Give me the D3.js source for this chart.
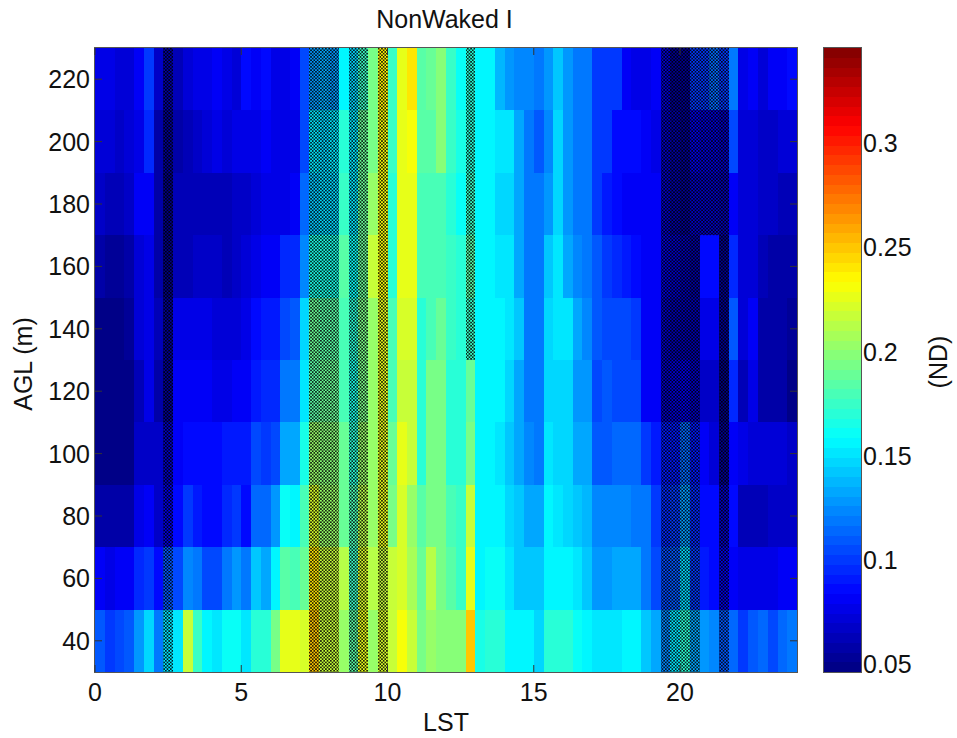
<!DOCTYPE html>
<html><head><meta charset="utf-8">
<script src="https://cdnjs.cloudflare.com/ajax/libs/d3/7.8.5/d3.min.js"></script>
<style>html,body{margin:0;padding:0;background:#fff}svg{display:block}text{font-family:"Liberation Sans",Arial,sans-serif;fill:#111}</style>
</head><body><svg id="c" width="957" height="738"></svg>
<script>
// Values in thousandths of ND, one array per altitude, 72 columns of 20 minutes each.
const alt40=[110,100,105,110,130,145,120,150,150,215,175,158,150,162,162,150,168,168,195,225,228,222,250,215,215,205,185,228,205,222,215,233,218,195,205,200,200,200,252,165,170,172,158,158,155,148,168,172,172,163,155,150,150,150,158,155,140,133,125,150,172,135,130,125,110,115,98,110,115,105,115,120];
const alt60=[83,78,83,83,95,102,85,110,105,125,120,105,105,120,130,120,140,135,158,185,180,190,240,215,215,210,175,220,210,215,215,222,208,190,212,195,185,175,225,158,163,162,152,140,143,143,158,158,158,150,140,130,130,135,135,135,117,105,105,110,145,100,92,85,75,83,78,78,78,75,83,83];
const alt80=[58,58,58,58,78,83,65,75,88,98,90,85,85,95,98,85,115,115,130,160,158,180,220,205,205,190,180,210,205,225,195,222,205,182,195,195,180,175,215,155,158,158,148,143,135,135,158,150,148,140,138,125,125,125,122,120,117,102,95,100,130,95,85,85,65,85,62,62,64,66,66,66];
const alt100=[50,48,46,48,65,68,65,65,83,85,85,84,85,92,90,90,105,100,105,135,135,165,205,200,200,190,170,205,205,225,190,228,215,172,195,195,172,170,195,155,155,150,143,135,125,120,152,148,145,135,132,110,110,113,113,113,102,92,90,90,115,90,83,72,52,83,75,72,72,70,70,68];
const alt120=[50,48,48,48,62,78,60,55,80,83,83,80,76,78,83,83,92,95,95,120,120,150,185,190,190,180,165,195,205,228,178,218,218,172,195,195,170,168,190,155,155,155,148,135,118,118,148,148,145,130,128,105,108,105,105,105,83,80,68,70,75,68,65,68,50,95,62,78,58,58,56,50];
const alt140=[50,48,48,52,70,78,62,52,75,76,78,76,72,72,74,75,87,92,92,105,108,145,190,185,185,180,170,195,205,228,178,222,222,172,178,190,175,170,175,158,158,155,150,140,120,118,145,150,150,135,125,108,105,103,103,100,83,80,68,62,62,62,78,78,52,108,72,83,60,60,60,55];
const alt160=[56,52,52,60,70,75,60,50,62,63,65,65,65,64,68,72,76,83,83,95,95,125,165,165,165,185,160,190,215,230,170,228,228,178,178,180,177,170,185,157,155,150,150,135,117,117,140,150,135,125,120,110,102,95,90,85,83,83,72,65,62,60,85,85,55,95,70,70,62,60,56,56];
const alt180=[65,63,62,65,83,83,60,50,62,63,64,64,64,64,66,68,72,78,75,76,80,115,140,145,145,175,150,190,205,230,172,228,228,180,180,180,170,163,175,157,157,145,145,135,120,120,130,145,130,117,117,102,92,88,83,83,83,83,68,58,55,65,65,65,62,83,72,70,66,66,64,64];
const alt200=[72,70,68,72,75,97,60,52,60,64,66,70,75,72,75,75,76,83,75,75,75,105,150,145,150,172,150,190,195,230,177,225,233,185,185,196,177,165,170,155,157,152,150,135,117,110,125,145,130,121,117,100,100,88,88,85,80,78,68,56,52,75,70,72,68,105,70,70,66,68,72,72];
const alt220=[78,76,70,74,83,102,65,58,62,72,75,75,79,75,72,87,79,87,75,76,79,107,130,132,128,158,148,175,195,235,177,228,240,185,190,200,177,163,172,155,155,137,130,125,125,117,130,140,130,117,117,102,102,102,83,75,75,83,70,52,52,100,102,112,102,121,75,83,70,83,83,87];
const rows=[alt40,alt60,alt80,alt100,alt120,alt140,alt160,alt180,alt200,alt220];
const altitudes=[40,60,80,100,120,140,160,180,200,220];
const hatchedAllRows=[7,22,23,24,26,27,29,58,59,60,61,64];
const hatchedFrom140=[38];
const hatchedFrom180=[62,63];
const xTicks=[0,5,10,15,20];
const yTicks=[40,60,80,100,120,140,160,180,200,220];
const barTicks=[0.05,0.1,0.15,0.2,0.25,0.3];
const barLabels=["0.05","0.1","0.15","0.2","0.25","0.3"];
const title="NonWaked I", xLabel="LST", yLabel="AGL (m)", barLabel="(ND)";

const plot={l:95,r:797,t:48,b:672}, bar={l:824,r:861};
const x=d3.scaleLinear().domain([0,24]).range([plot.l,plot.r]);
const y=d3.scaleLinear().domain([30,230]).range([plot.b,plot.t]);
const vMin=0.0462,vMax=0.3457;
const cy=d3.scaleLinear().domain([vMin,vMax]).range([plot.b,plot.t]);
const jet=t=>{const c=f=>Math.round(255*Math.max(0,Math.min(1,1.5-Math.abs(4*t-f))));return `rgb(${c(3)},${c(2)},${c(1)})`;};
const levels=d3.range(64);
const palette=levels.map(i=>jet((i+0.5)/64));
const color=d3.scaleQuantize().domain([vMin,vMax]).range(palette);

const svg=d3.select("#c");
const defs=svg.append("defs");
const pat=defs.append("pattern").attr("id","stip").attr("patternUnits","userSpaceOnUse").attr("width",3.3).attr("height",3.3);
pat.append("rect").attr("x",0).attr("y",0).attr("width",1.65).attr("height",1.65).attr("fill","#000").attr("fill-opacity",.85);
pat.append("rect").attr("x",1.65).attr("y",1.65).attr("width",1.65).attr("height",1.65).attr("fill","#000").attr("fill-opacity",.85);

const cw=1/3;
const cells=[];
rows.forEach((r,ri)=>r.forEach((v,c)=>cells.push({c,alt:altitudes[ri],v:v/1000})));
svg.append("g").attr("shape-rendering","crispEdges").selectAll("rect").data(cells).join("rect")
 .attr("x",d=>Math.round(x(d.c*cw))).attr("width",d=>Math.round(x((d.c+1)*cw))-Math.round(x(d.c*cw)))
 .attr("y",d=>Math.round(y(d.alt+10))).attr("height",d=>Math.round(y(d.alt-10))-Math.round(y(d.alt+10)))
 .attr("fill",d=>color(d.v));

const hatch=[];
hatchedAllRows.forEach(c=>hatch.push({c,a0:30}));
hatchedFrom140.forEach(c=>hatch.push({c,a0:130}));
hatchedFrom180.forEach(c=>hatch.push({c,a0:170}));
svg.append("g").selectAll("rect").data(hatch).join("rect")
 .attr("x",d=>Math.round(x(d.c*cw))).attr("width",d=>Math.round(x((d.c+1)*cw))-Math.round(x(d.c*cw)))
 .attr("y",y(230)).attr("height",d=>y(d.a0)-y(230)).attr("fill","url(#stip)");

const fs=25;
const frame=svg.append("g");
frame.append("rect").attr("x",plot.l-.5).attr("y",plot.t-.5).attr("width",plot.r-plot.l+1).attr("height",plot.b-plot.t+1).attr("fill","none").attr("stroke","#555");
const tk=svg.append("g").attr("stroke","#333").attr("stroke-width",1);
xTicks.forEach(t=>{tk.append("line").attr("x1",x(t)).attr("x2",x(t)).attr("y1",plot.b).attr("y2",plot.b-7);tk.append("line").attr("x1",x(t)).attr("x2",x(t)).attr("y1",plot.t).attr("y2",plot.t+7);});
yTicks.forEach(t=>{tk.append("line").attr("y1",y(t)).attr("y2",y(t)).attr("x1",plot.l).attr("x2",plot.l+7);tk.append("line").attr("y1",y(t)).attr("y2",y(t)).attr("x1",plot.r).attr("x2",plot.r-7);});
svg.append("g").selectAll("text").data(xTicks).join("text").attr("x",d=>x(d)).attr("y",plot.b+29).attr("text-anchor","middle").attr("font-size",fs).text(d=>d);
svg.append("g").selectAll("text").data(yTicks).join("text").attr("x",plot.l-5).attr("y",d=>y(d)+9).attr("text-anchor","end").attr("font-size",fs).text(d=>d);

const bh=(plot.b-plot.t)/64;
svg.append("g").attr("shape-rendering","crispEdges").selectAll("rect").data(levels).join("rect")
 .attr("x",bar.l).attr("width",bar.r-bar.l).attr("y",d=>Math.round(plot.b-(d+1)*bh)).attr("height",d=>Math.round(plot.b-d*bh)-Math.round(plot.b-(d+1)*bh)).attr("fill",d=>palette[d]);
frame.append("rect").attr("x",bar.l-.5).attr("y",plot.t-.5).attr("width",bar.r-bar.l+1).attr("height",plot.b-plot.t+1).attr("fill","none").attr("stroke","#555");
barTicks.forEach(t=>{tk.append("line").attr("x1",bar.l).attr("x2",bar.l+6).attr("y1",cy(t)).attr("y2",cy(t));tk.append("line").attr("x1",bar.r).attr("x2",bar.r-6).attr("y1",cy(t)).attr("y2",cy(t));});
svg.append("g").selectAll("text").data(barTicks).join("text").attr("x",bar.r+2).attr("y",(d)=>cy(d)+9).attr("font-size",fs).text((d,i)=>barLabels[i]);

svg.append("text").attr("x",444.5).attr("y",27.5).attr("text-anchor","middle").attr("font-size",fs).text(title);
svg.append("text").attr("x",446).attr("y",731).attr("text-anchor","middle").attr("font-size",fs).text(xLabel);
svg.append("text").attr("transform","translate(32,364) rotate(-90)").attr("text-anchor","middle").attr("font-size",fs).text(yLabel);
svg.append("text").attr("transform","translate(947,362) rotate(-90)").attr("text-anchor","middle").attr("font-size",fs).text(barLabel);
</script></body></html>
